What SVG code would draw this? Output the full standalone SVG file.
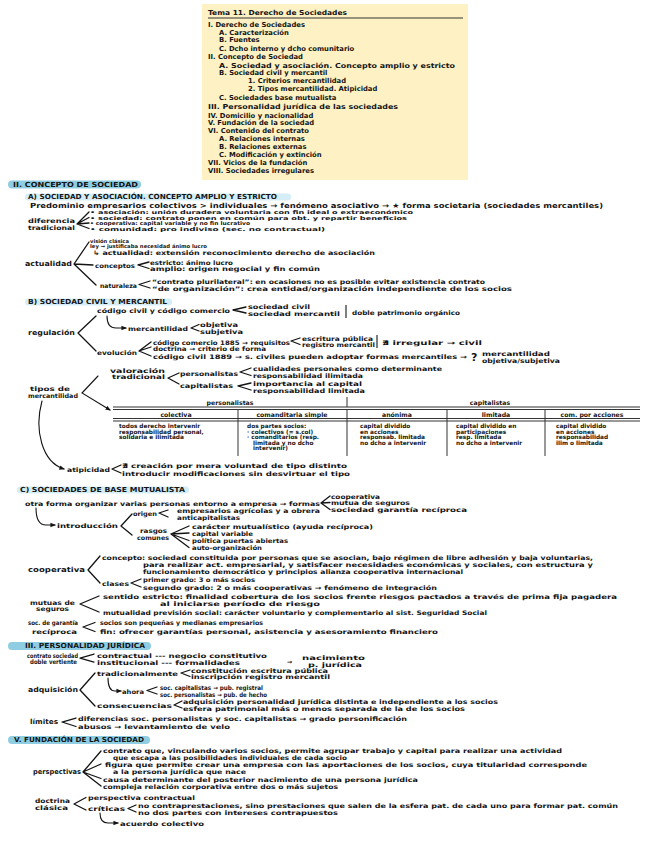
<svg xmlns="http://www.w3.org/2000/svg" width="656" height="848" viewBox="0 0 656 848">
<style>
text{font-family:"DejaVu Sans","Liberation Sans",sans-serif;font-weight:bold;fill:#141414;dominant-baseline:central}
.b{font-size:7px}
.s{font-size:6.2px}
.t{font-size:5.2px}
.h{font-size:7px}
.toc{font-size:6.8px}
.c{font-size:5.8px}
.br{fill:none;stroke:#141414;stroke-width:1.3;stroke-linecap:round;stroke-linejoin:round}
.ar{fill:none;stroke:#141414;stroke-width:1.1;stroke-linecap:round;marker-end:url(#ah)}
.pill{fill:#8fcde2}
.sub{fill:#d4edf6}
.tl{stroke:#333;stroke-width:1;fill:none}
</style>
<defs><marker id="ah" viewBox="0 0 6 6" refX="5" refY="3" markerWidth="5" markerHeight="5" orient="auto"><path d="M0,0.5 L6,3 L0,5.5 z" fill="#141414"/></marker></defs>
<rect width="656" height="848" fill="#fff"/>

<g id="toc">
<rect x="202" y="4" width="266" height="176" fill="#fef2c4"/>
<text class="toc" x="208" y="13" textLength="139" lengthAdjust="spacingAndGlyphs">Tema 11. Derecho de Sociedades</text>
<line x1="208" y1="18" x2="463" y2="18" stroke="#333" stroke-width="1.2"/>
<text class="toc" x="208" y="25">I. Derecho de Sociedades</text>
<text class="toc" x="219" y="33">A. Caracterización</text>
<text class="toc" x="219" y="40">B. Fuentes</text>
<text class="toc" x="219" y="49">C. Dcho interno y dcho comunitario</text>
<text class="toc" x="208" y="57">II. Concepto de Sociedad</text>
<text class="toc" x="219" y="66" textLength="236" lengthAdjust="spacingAndGlyphs">A. Sociedad y asociación. Concepto amplio y estricto</text>
<text class="toc" x="219" y="73">B. Sociedad civil y mercantil</text>
<text class="toc" x="248" y="81">1. Criterios mercantilidad</text>
<text class="toc" x="248" y="89">2. Tipos mercantilidad. Atipicidad</text>
<text class="toc" x="219" y="98">C. Sociedades base mutualista</text>
<text class="toc" x="208" y="107" textLength="190" lengthAdjust="spacingAndGlyphs">III. Personalidad jurídica de las sociedades</text>
<text class="toc" x="208" y="116">IV. Domicilio y nacionalidad</text>
<text class="toc" x="208" y="123">V. Fundación de la sociedad</text>
<text class="toc" x="208" y="131">VI. Contenido del contrato</text>
<text class="toc" x="219" y="139">A. Relaciones internas</text>
<text class="toc" x="219" y="147">B. Relaciones externas</text>
<text class="toc" x="219" y="155">C. Modificación y extinción</text>
<text class="toc" x="208" y="163">VII. Vicios de la fundación</text>
<text class="toc" x="208" y="171">VIII. Sociedades irregulares</text>
</g>

<g id="sec2">
<rect class="pill" x="8" y="180.5" width="133" height="8" rx="4"/>
<text class="h" x="13" y="184.5" textLength="125" lengthAdjust="spacingAndGlyphs">II. CONCEPTO DE SOCIEDAD</text>
</g>
<g id="sec2a">
<rect class="sub" x="25" y="193.5" width="266" height="7" rx="3.5"/>
<text class="h" x="28" y="197" textLength="249" lengthAdjust="spacingAndGlyphs">A) SOCIEDAD Y ASOCIACIÓN. CONCEPTO AMPLIO Y ESTRICTO</text>
<text class="b" x="30" y="206" textLength="573" lengthAdjust="spacingAndGlyphs">Predominio empresarios colectivos &gt; individuales → fenómeno asociativo → ★ forma societaria (sociedades mercantiles)</text>
</g>
<g id="diferencia">
<text class="s" x="28" y="220" textLength="47" lengthAdjust="spacingAndGlyphs">diferencia</text>
<text class="s" x="28" y="227" textLength="47" lengthAdjust="spacingAndGlyphs">tradicional</text>
<text class="t" x="90" y="212" textLength="323" lengthAdjust="spacingAndGlyphs">• asociación: unión duradera voluntaria con fin ideal o extraeconómico</text>
<text class="t" x="90" y="217.5" textLength="317" lengthAdjust="spacingAndGlyphs">• sociedad: contrato ponen en común para obt. y repartir beneficios</text>
<text class="t" x="90" y="223" textLength="160" lengthAdjust="spacingAndGlyphs">• cooperativa: capital variable y no fin lucrativo</text>
<text class="t" x="90" y="228.5" textLength="235" lengthAdjust="spacingAndGlyphs">• comunidad: pro indiviso (sec. no contractual)</text>
</g>
<g id="actualidad">
<text class="b" x="25" y="264" textLength="47" lengthAdjust="spacingAndGlyphs">actualidad</text>
<text class="t" x="90" y="240.5">visión clásica</text>
<text class="t" x="90" y="246" textLength="117" lengthAdjust="spacingAndGlyphs">ley → justificaba necesidad ánimo lucro</text>
<text class="s" x="93" y="252" textLength="282" lengthAdjust="spacingAndGlyphs">↳ actualidad: extensión reconocimiento derecho de asociación</text>
<text class="s" x="95" y="265" textLength="40" lengthAdjust="spacingAndGlyphs">conceptos</text>
<text class="s" x="150" y="262" textLength="83" lengthAdjust="spacingAndGlyphs">estricto: ánimo lucro</text>
<text class="s" x="150" y="268.5" textLength="170" lengthAdjust="spacingAndGlyphs">amplio: origen negocial y fin común</text>
<text class="s" x="100" y="285" textLength="37" lengthAdjust="spacingAndGlyphs">naturaleza</text>
<text class="s" x="152" y="281" textLength="333" lengthAdjust="spacingAndGlyphs">“contrato plurilateral”: en ocasiones no es posible evitar existencia contrato</text>
<text class="s" x="152" y="288" textLength="360" lengthAdjust="spacingAndGlyphs">“de organización”: crea entidad/organización independiente de los socios</text>
</g>

<g id="sec2b">
<rect class="sub" x="25" y="298.5" width="147" height="7" rx="3.5"/>
<text class="h" x="28" y="302" textLength="139" lengthAdjust="spacingAndGlyphs">B) SOCIEDAD CIVIL Y MERCANTIL</text>
</g>
<g id="regulacion">
<text class="b" x="28" y="333" textLength="47" lengthAdjust="spacingAndGlyphs">regulación</text>
<text class="s" x="97" y="310" textLength="133" lengthAdjust="spacingAndGlyphs">código civil y código comercio</text>
<text class="s" x="248" y="306.5" textLength="62" lengthAdjust="spacingAndGlyphs">sociedad civil</text>
<text class="s" x="248" y="313" textLength="92" lengthAdjust="spacingAndGlyphs">sociedad mercantil</text>
<line x1="346" y1="305" x2="346" y2="318" stroke="#141414" stroke-width="1.1"/>
<text class="s" x="352" y="312" textLength="108" lengthAdjust="spacingAndGlyphs">doble patrimonio orgánico</text>
<text class="s" x="128" y="328" textLength="60" lengthAdjust="spacingAndGlyphs">mercantilidad</text>
<text class="s" x="200" y="324.5" textLength="38" lengthAdjust="spacingAndGlyphs">objetiva</text>
<text class="s" x="200" y="331" textLength="43" lengthAdjust="spacingAndGlyphs">subjetiva</text>
<text class="s" x="97" y="352" textLength="40" lengthAdjust="spacingAndGlyphs">evolución</text>
<text class="s" x="153" y="342" textLength="137" lengthAdjust="spacingAndGlyphs">código comercio 1885 → requisitos</text>
<text class="s" x="302" y="338" textLength="71" lengthAdjust="spacingAndGlyphs">escritura pública</text>
<text class="s" x="302" y="344.5" textLength="73" lengthAdjust="spacingAndGlyphs">registro mercantil</text>
<line x1="377" y1="335" x2="377" y2="348" stroke="#141414" stroke-width="1.1"/>
<text class="s" x="382" y="342" textLength="100" lengthAdjust="spacingAndGlyphs">∄ irregular → civil</text>
<text class="s" x="153" y="348" textLength="113" lengthAdjust="spacingAndGlyphs">doctrina → criterio de forma</text>
<text class="s" x="153" y="356" textLength="314" lengthAdjust="spacingAndGlyphs">código civil 1889 → s. civiles pueden adoptar formas mercantiles →</text>
<text x="471" y="357" style="font-size:11px">?</text>
<text class="s" x="482" y="353" textLength="68" lengthAdjust="spacingAndGlyphs">mercantilidad</text>
<text class="s" x="482" y="360.5" textLength="78" lengthAdjust="spacingAndGlyphs">objetiva/subjetiva</text>
</g>
<g id="tipos">
<text class="s" x="30" y="388.5" textLength="40" lengthAdjust="spacingAndGlyphs">tipos de</text>
<text class="s" x="28" y="395" textLength="50" lengthAdjust="spacingAndGlyphs">mercantilidad</text>
<text class="s" x="110" y="370" textLength="55" lengthAdjust="spacingAndGlyphs">valoración</text>
<text class="s" x="112" y="376" textLength="53" lengthAdjust="spacingAndGlyphs">tradicional</text>
<text class="s" x="180" y="373" textLength="58" lengthAdjust="spacingAndGlyphs">personalistas</text>
<text class="s" x="253" y="368" textLength="189" lengthAdjust="spacingAndGlyphs">cualidades personales como determinante</text>
<text class="s" x="253" y="375.5" textLength="110" lengthAdjust="spacingAndGlyphs">responsabilidad ilimitada</text>
<text class="s" x="180" y="385" textLength="53" lengthAdjust="spacingAndGlyphs">capitalistas</text>
<text class="s" x="253" y="383" textLength="109" lengthAdjust="spacingAndGlyphs">importancia al capital</text>
<text class="s" x="253" y="390" textLength="112" lengthAdjust="spacingAndGlyphs">responsabilidad limitada</text>
</g>
<g id="tabla">
<text class="s" x="230" y="402" text-anchor="middle">personalistas</text>
<text class="s" x="490" y="402" text-anchor="middle">capitalistas</text>
<line class="tl" x1="347" y1="397" x2="347" y2="407"/>
<line class="tl" x1="113" y1="407" x2="640" y2="407"/>
<line class="tl" x1="113" y1="409.5" x2="640" y2="409.5"/>
<text class="s" x="176" y="414" text-anchor="middle">colectiva</text>
<text class="s" x="292" y="414" text-anchor="middle">comanditaria simple</text>
<text class="s" x="397" y="414" text-anchor="middle">anónima</text>
<text class="s" x="496" y="414" text-anchor="middle">limitada</text>
<text class="s" x="592" y="414" text-anchor="middle">com. por acciones</text>
<line class="tl" x1="113" y1="418.5" x2="640" y2="418.5"/>
<line class="tl" x1="113" y1="421" x2="640" y2="421"/>
<line class="tl" x1="238" y1="410" x2="238" y2="456"/>
<line class="tl" x1="347" y1="410" x2="347" y2="456"/>
<line class="tl" x1="447" y1="410" x2="447" y2="456"/>
<line class="tl" x1="545" y1="410" x2="545" y2="456"/>
<text class="c" x="119" y="426">todos derecho intervenir</text>
<text class="c" x="119" y="431.5">responsabilidad personal,</text>
<text class="c" x="119" y="437">solidaria e ilimitada</text>
<text class="c" x="247" y="426">dos partes socios:</text>
<text class="c" x="247" y="431.5">· colectivos (= s.col)</text>
<text class="c" x="247" y="437">· comanditarios (resp.</text>
<text class="c" x="253" y="442.5">limitada y no dcho</text>
<text class="c" x="253" y="448">intervenir)</text>
<text class="c" x="360" y="426">capital dividido</text>
<text class="c" x="360" y="431.5">en acciones</text>
<text class="c" x="360" y="437">responsab. limitada</text>
<text class="c" x="360" y="442.5">no dcho a intervenir</text>
<text class="c" x="456" y="426">capital dividido en</text>
<text class="c" x="456" y="431.5">participaciones</text>
<text class="c" x="456" y="437">resp. limitada</text>
<text class="c" x="456" y="442.5">no dcho a intervenir</text>
<text class="c" x="556" y="426">capital dividido</text>
<text class="c" x="556" y="431.5">en acciones</text>
<text class="c" x="556" y="437">responsabilidad</text>
<text class="c" x="556" y="442.5">ilim o limitada</text>
</g>
<g id="atipicidad">
<text class="s" x="67" y="469" textLength="43" lengthAdjust="spacingAndGlyphs">atipicidad</text>
<text class="s" x="122" y="465" textLength="225" lengthAdjust="spacingAndGlyphs">∄ creación por mera voluntad de tipo distinto</text>
<text class="s" x="122" y="473" textLength="228" lengthAdjust="spacingAndGlyphs">introducir modificaciones sin desvirtuar el tipo</text>
</g>

<g id="sec2c">
<rect class="sub" x="17" y="486.5" width="172" height="7" rx="3.5"/>
<text class="h" x="20" y="490" textLength="165" lengthAdjust="spacingAndGlyphs">C) SOCIEDADES DE BASE MUTUALISTA</text>
<text class="s" x="25" y="503" textLength="295" lengthAdjust="spacingAndGlyphs">otra forma organizar varias personas entorno a empresa → formas</text>
<text class="s" x="331" y="496" textLength="49" lengthAdjust="spacingAndGlyphs">cooperativa</text>
<text class="s" x="331" y="502.5" textLength="79" lengthAdjust="spacingAndGlyphs">mutua de seguros</text>
<text class="s" x="331" y="509" textLength="136" lengthAdjust="spacingAndGlyphs">sociedad garantía recíproca</text>
</g>
<g id="introduccion">
<text class="s" x="57" y="525" textLength="61" lengthAdjust="spacingAndGlyphs">introducción</text>
<text class="s" x="133" y="513" textLength="24" lengthAdjust="spacingAndGlyphs">origen</text>
<text class="s" x="177" y="510" textLength="143" lengthAdjust="spacingAndGlyphs">empresarios agrícolas y a obrera</text>
<text class="s" x="177" y="517" textLength="63" lengthAdjust="spacingAndGlyphs">anticapitalistas</text>
<text class="s" x="140" y="530" textLength="27" lengthAdjust="spacingAndGlyphs">rasgos</text>
<text class="s" x="137" y="537" textLength="32" lengthAdjust="spacingAndGlyphs">comunes</text>
<text class="s" x="192" y="526" textLength="181" lengthAdjust="spacingAndGlyphs">carácter mutualístico (ayuda recíproca)</text>
<text class="s" x="192" y="533" textLength="61" lengthAdjust="spacingAndGlyphs">capital variable</text>
<text class="s" x="192" y="540.5" textLength="96" lengthAdjust="spacingAndGlyphs">política puertas abiertas</text>
<text class="s" x="192" y="547.5" textLength="70" lengthAdjust="spacingAndGlyphs">auto-organización</text>
</g>
<g id="cooperativa">
<text class="b" x="28" y="570" textLength="57" lengthAdjust="spacingAndGlyphs">cooperativa</text>
<text class="s" x="102" y="557" textLength="491" lengthAdjust="spacingAndGlyphs">concepto: sociedad constituida por personas que se asocian, bajo régimen de libre adhesión y baja voluntarias,</text>
<text class="s" x="143" y="564" textLength="450" lengthAdjust="spacingAndGlyphs">para realizar act. empresarial, y satisfacer necesidades económicas y sociales, con estructura y</text>
<text class="s" x="143" y="571" textLength="320" lengthAdjust="spacingAndGlyphs">funcionamiento democrático y principios alianza cooperativa internacional</text>
<text class="s" x="102" y="583" textLength="27" lengthAdjust="spacingAndGlyphs">clases</text>
<text class="s" x="143" y="579" textLength="112" lengthAdjust="spacingAndGlyphs">primer grado: 3 o más socios</text>
<text class="s" x="143" y="587" textLength="294" lengthAdjust="spacingAndGlyphs">segundo grado: 2 o más cooperativas → fenómeno de integración</text>
</g>
<g id="mutuas">
<text class="s" x="30" y="602" textLength="45" lengthAdjust="spacingAndGlyphs">mutuas de</text>
<text class="s" x="36" y="608" textLength="33" lengthAdjust="spacingAndGlyphs">seguros</text>
<text class="s" x="103" y="596" textLength="514" lengthAdjust="spacingAndGlyphs">sentido estricto: finalidad cobertura de los socios frente riesgos pactados a través de prima fija pagadera</text>
<text class="s" x="160" y="603" textLength="160" lengthAdjust="spacingAndGlyphs">al iniciarse período de riesgo</text>
<text class="s" x="103" y="612" textLength="384" lengthAdjust="spacingAndGlyphs">mutualidad previsión social: carácter voluntario y complementario al sist. Seguridad Social</text>
</g>
<g id="sgr">
<text class="s" x="28" y="622.5" textLength="50" lengthAdjust="spacingAndGlyphs">soc. de garantía</text>
<text class="s" x="32" y="631" textLength="45" lengthAdjust="spacingAndGlyphs">recíproca</text>
<text class="s" x="100" y="622.5" textLength="163" lengthAdjust="spacingAndGlyphs">socios son pequeñas y medianas empresarios</text>
<text class="s" x="100" y="631.5" textLength="338" lengthAdjust="spacingAndGlyphs">fin: ofrecer garantías personal, asistencia y asesoramiento financiero</text>
</g>

<g id="sec3">
<rect class="pill" x="8" y="642" width="143" height="8" rx="4"/>
<text class="h" x="25" y="646" textLength="120" lengthAdjust="spacingAndGlyphs">III. PERSONALIDAD JURÍDICA</text>
</g>
<g id="contrato">
<text class="s" x="27" y="655" textLength="51" lengthAdjust="spacingAndGlyphs">contrato sociedad</text>
<text class="s" x="30" y="661" textLength="47" lengthAdjust="spacingAndGlyphs">doble vertiente</text>
<text class="s" x="97" y="655" textLength="170" lengthAdjust="spacingAndGlyphs">contractual --- negocio constitutivo</text>
<text class="s" x="97" y="662" textLength="143" lengthAdjust="spacingAndGlyphs">institucional --- formalidades</text>
<text class="s" x="287" y="661">→</text>
<text class="s" x="302" y="657" textLength="63" lengthAdjust="spacingAndGlyphs">nacimiento</text>
<text class="s" x="308" y="664" textLength="54" lengthAdjust="spacingAndGlyphs">p. jurídica</text>
</g>
<g id="adquisicion">
<text class="b" x="28" y="690" textLength="50" lengthAdjust="spacingAndGlyphs">adquisición</text>
<text class="s" x="97" y="673" textLength="81" lengthAdjust="spacingAndGlyphs">tradicionalmente</text>
<text class="s" x="191" y="670" textLength="137" lengthAdjust="spacingAndGlyphs">constitución escritura pública</text>
<text class="s" x="191" y="676.5" textLength="139" lengthAdjust="spacingAndGlyphs">inscripción registro mercantil</text>
<text class="s" x="122" y="691" textLength="22" lengthAdjust="spacingAndGlyphs">ahora</text>
<text class="s" x="160" y="687" textLength="103" lengthAdjust="spacingAndGlyphs">soc. capitalistas → pub. registral</text>
<text class="s" x="160" y="694" textLength="107" lengthAdjust="spacingAndGlyphs">soc. personalistas → pub. de hecho</text>
<text class="s" x="97" y="705" textLength="75" lengthAdjust="spacingAndGlyphs">consecuencias</text>
<text class="s" x="183" y="701" textLength="315" lengthAdjust="spacingAndGlyphs">adquisición personalidad jurídica distinta e independiente a los socios</text>
<text class="s" x="183" y="708" textLength="282" lengthAdjust="spacingAndGlyphs">esfera patrimonial más o menos separada de la de los socios</text>
</g>
<g id="limites">
<text class="b" x="30" y="722" textLength="28" lengthAdjust="spacingAndGlyphs">límites</text>
<text class="s" x="78" y="718" textLength="329" lengthAdjust="spacingAndGlyphs">diferencias soc. personalistas y soc. capitalistas → grado personificación</text>
<text class="s" x="78" y="726.5" textLength="152" lengthAdjust="spacingAndGlyphs">abusos → levantamiento de velo</text>
</g>

<g id="sec5">
<rect class="pill" x="8" y="736" width="142" height="8" rx="4"/>
<text class="h" x="14" y="740" textLength="130" lengthAdjust="spacingAndGlyphs">V. FUNDACIÓN DE LA SOCIEDAD</text>
</g>
<g id="perspectivas">
<text class="b" x="33" y="772" textLength="48" lengthAdjust="spacingAndGlyphs">perspectivas</text>
<text class="s" x="103" y="750.5" textLength="459" lengthAdjust="spacingAndGlyphs">contrato que, vinculando varios socios, permite agrupar trabajo y capital para realizar una actividad</text>
<text class="s" x="113" y="757" textLength="234" lengthAdjust="spacingAndGlyphs">que escapa a las posibilidades individuales de cada socio</text>
<text class="s" x="105" y="764" textLength="482" lengthAdjust="spacingAndGlyphs">figura que permite crear una empresa con las aportaciones de los socios, cuya titularidad corresponde</text>
<text class="s" x="113" y="771" textLength="133" lengthAdjust="spacingAndGlyphs">a la persona jurídica que nace</text>
<text class="s" x="103" y="779" textLength="315" lengthAdjust="spacingAndGlyphs">causa determinante del posterior nacimiento de una persona jurídica</text>
<text class="s" x="103" y="786.5" textLength="235" lengthAdjust="spacingAndGlyphs">compleja relación corporativa entre dos o más sujetos</text>
</g>
<g id="doctrina">
<text class="s" x="35" y="800" textLength="35" lengthAdjust="spacingAndGlyphs">doctrina</text>
<text class="s" x="35" y="807" textLength="33" lengthAdjust="spacingAndGlyphs">clásica</text>
<text class="s" x="88" y="797.5" textLength="107" lengthAdjust="spacingAndGlyphs">perspectiva contractual</text>
<text class="s" x="88" y="808.5" textLength="37" lengthAdjust="spacingAndGlyphs">críticas</text>
<text class="s" x="138" y="805" textLength="480" lengthAdjust="spacingAndGlyphs">no contraprestaciones, sino prestaciones que salen de la esfera pat. de cada uno para formar pat. común</text>
<text class="s" x="138" y="812.5" textLength="200" lengthAdjust="spacingAndGlyphs">no dos partes con intereses contrapuestos</text>
<text class="s" x="120" y="823" textLength="84" lengthAdjust="spacingAndGlyphs">acuerdo colectivo</text>
</g>

<g id="connectors">
<path class="br" d="M89,212 L77,224 L89,228.5 M77,224 L89,217.5 M77,224 L89,223"/>
<path class="br" d="M89,242 L74,264 L96,285 M74,264 L93,265"/>
<path class="br" d="M149,262 L138,265 L149,268.5"/>
<path class="br" d="M150,281 L139,284.5 L150,288"/>
<path class="br" d="M96,316 L78,333 L96,351"/>
<path class="br" d="M246,307 L233,310 L246,313"/>
<path class="ar" d="M107,316 Q107,328 116,328 L126,328"/>
<path class="br" d="M199,324.5 L191,328 L199,331"/>
<path class="br" d="M151,342 L139,351 L151,356 M139,351 L151,347"/>
<path class="br" d="M300,338 L291,341 L300,344.5"/>
<path class="br" d="M179,373 L168,378 L179,384"/>
<path class="br" d="M251,368 L240,372 L251,375.5"/>
<path class="br" d="M251,383 L238,386 L251,390"/>
<path class="ar" d="M98,376 L82,393 L110,410"/>
<path class="ar" d="M42,401 C34,430 42,462 64,469"/>
<path class="br" d="M121,465 L112,469 L121,473"/>
<path class="br" d="M330,496 L321,503 L330,509.5 M321,503 L330,502.5"/>
<path class="ar" d="M36,508 Q36,525 46,525 L55,525"/>
<path class="br" d="M132,514 L121,526 L132,535"/>
<path class="br" d="M168,510 L159,513 L168,517"/>
<path class="br" d="M189,526 L171,534 L189,547.5 M171,534 L189,533 M171,534 L189,540.5"/>
<path class="br" d="M100,556 L88,570 L100,583"/>
<path class="br" d="M141,579 L131,583 L141,587"/>
<path class="br" d="M99,596 L80,604 L99,612"/>
<path class="br" d="M95,622.5 L83,627 L95,631.5"/>
<path class="br" d="M94,654 L80,658 L94,662"/>
<path class="br" d="M95,673 L80,690 L95,706"/>
<path class="br" d="M190,670 L181,673 L190,676.5"/>
<path class="ar" d="M108,678 Q108,691 115,691 L121,691"/>
<path class="br" d="M157,687 L147,690.5 L157,694"/>
<path class="br" d="M182,701 L174,705 L182,708"/>
<path class="br" d="M76,718 L62,722 L76,726.5"/>
<path class="br" d="M101,751 L83,772 L101,786 M83,772 L101,764 M83,772 L101,778.5"/>
<path class="br" d="M86,797.5 L74,804 L86,810"/>
<path class="br" d="M136,805 L128,808.5 L136,812"/>
<path class="ar" d="M100,813 Q100,823 108,823 L118,823"/>
</g>
</svg>
